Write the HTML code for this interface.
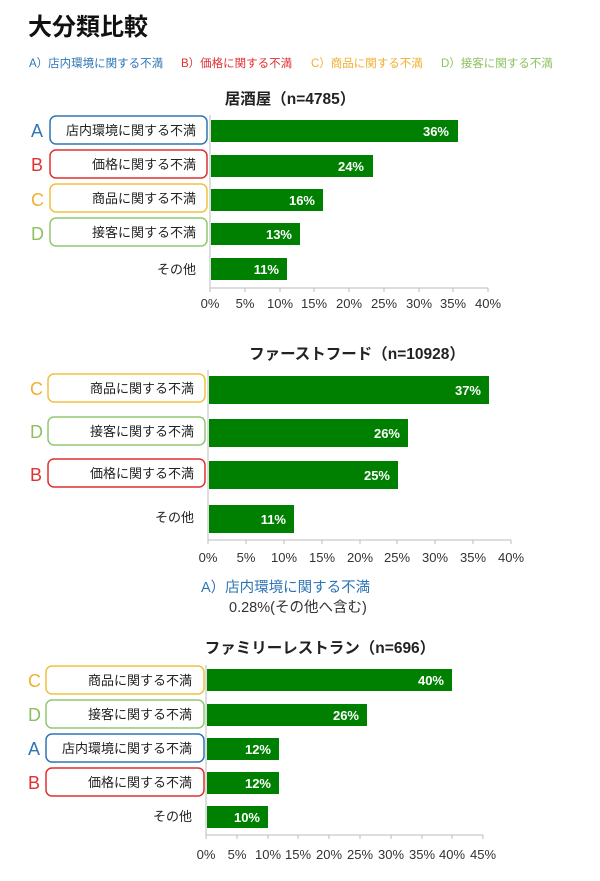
<!DOCTYPE html>
<html><head><meta charset="utf-8"><style>
body{margin:0;background:#fff;}
svg{display:block;font-family:"Liberation Sans","Noto Sans CJK JP",sans-serif;}
</style></head><body>
<svg width="600" height="881" viewBox="0 0 600 881" xmlns="http://www.w3.org/2000/svg">
<text x="28" y="35" font-size="24" font-weight="bold" fill="#111">大分類比較</text>
<g font-size="11.5">
<text x="29" y="67" fill="#2e75b6">A）店内環境に関する不満</text>
<text x="181" y="67" fill="#e03030">B）価格に関する不満</text>
<text x="311" y="67" fill="#f0b030">C）商品に関する不満</text>
<text x="441" y="67" fill="#8cc060">D）接客に関する不満</text>
</g>

<!-- Chart 1 -->
<text x="290" y="104" font-size="15.5" font-weight="bold" text-anchor="middle" fill="#222">居酒屋（n=4785）</text>
<g stroke="#bbb" fill="none"><line x1="210" y1="115" x2="210" y2="288"/><line x1="210" y1="288" x2="488" y2="288"/></g>
<g stroke="#bbb"><line x1="210" y1="288" x2="210" y2="292"/><line x1="245" y1="288" x2="245" y2="292"/><line x1="280" y1="288" x2="280" y2="292"/><line x1="314" y1="288" x2="314" y2="292"/><line x1="349" y1="288" x2="349" y2="292"/><line x1="384" y1="288" x2="384" y2="292"/><line x1="419" y1="288" x2="419" y2="292"/><line x1="453" y1="288" x2="453" y2="292"/><line x1="488" y1="288" x2="488" y2="292"/></g>
<g font-size="13" fill="#333" text-anchor="middle"><text x="210" y="308">0%</text><text x="245" y="308">5%</text><text x="280" y="308">10%</text><text x="314" y="308">15%</text><text x="349" y="308">20%</text><text x="384" y="308">25%</text><text x="419" y="308">30%</text><text x="453" y="308">35%</text><text x="488" y="308">40%</text></g>
<g fill="#008000"><rect x="211" y="120" width="247" height="22"/><rect x="211" y="155" width="162" height="22"/><rect x="211" y="189" width="112" height="22"/><rect x="211" y="223" width="89" height="22"/><rect x="211" y="258" width="76" height="22"/></g>
<g fill="#fff" font-size="13" font-weight="bold" text-anchor="end"><text x="449" y="136">36%</text><text x="364" y="171">24%</text><text x="315" y="205">16%</text><text x="292" y="239">13%</text><text x="279" y="274">11%</text></g>
<g fill="#fff" stroke-width="1.5"><rect x="50" y="116" width="157" height="28" rx="6" stroke="#2e75b6"/><rect x="50" y="150" width="157" height="28" rx="6" stroke="#e03030"/><rect x="50" y="184" width="157" height="28" rx="6" stroke="#f0c040"/><rect x="50" y="218" width="157" height="28" rx="6" stroke="#90c870"/></g>
<g font-size="13" fill="#222" text-anchor="end"><text x="196" y="135">店内環境に関する不満</text><text x="196" y="169">価格に関する不満</text><text x="196" y="203">商品に関する不満</text><text x="196" y="237">接客に関する不満</text><text x="196" y="274">その他</text></g>
<g font-size="18"><text x="31" y="137" fill="#2e75b6">A</text><text x="31" y="171" fill="#e03030">B</text><text x="31" y="206" fill="#f0b030">C</text><text x="31" y="240" fill="#8cc060">D</text></g>

<!-- Chart 2 -->
<text x="357" y="359" font-size="15.5" font-weight="bold" text-anchor="middle" fill="#222">ファーストフード（n=10928）</text>
<g stroke="#bbb" fill="none"><line x1="208" y1="370" x2="208" y2="540"/><line x1="208" y1="540" x2="511" y2="540"/></g>
<g stroke="#bbb"><line x1="208" y1="540" x2="208" y2="544"/><line x1="246" y1="540" x2="246" y2="544"/><line x1="284" y1="540" x2="284" y2="544"/><line x1="322" y1="540" x2="322" y2="544"/><line x1="360" y1="540" x2="360" y2="544"/><line x1="397" y1="540" x2="397" y2="544"/><line x1="435" y1="540" x2="435" y2="544"/><line x1="473" y1="540" x2="473" y2="544"/><line x1="511" y1="540" x2="511" y2="544"/></g>
<g font-size="13" fill="#333" text-anchor="middle"><text x="208" y="562">0%</text><text x="246" y="562">5%</text><text x="284" y="562">10%</text><text x="322" y="562">15%</text><text x="360" y="562">20%</text><text x="397" y="562">25%</text><text x="435" y="562">30%</text><text x="473" y="562">35%</text><text x="511" y="562">40%</text></g>
<g fill="#008000"><rect x="209" y="376" width="280" height="28"/><rect x="209" y="419" width="199" height="28"/><rect x="209" y="461" width="189" height="28"/><rect x="209" y="505" width="85" height="28"/></g>
<g fill="#fff" font-size="13" font-weight="bold" text-anchor="end"><text x="481" y="395">37%</text><text x="400" y="438">26%</text><text x="390" y="480">25%</text><text x="286" y="524">11%</text></g>
<g fill="#fff" stroke-width="1.5"><rect x="48" y="374" width="157" height="28" rx="6" stroke="#f0c040"/><rect x="48" y="417" width="157" height="28" rx="6" stroke="#90c870"/><rect x="48" y="459" width="157" height="28" rx="6" stroke="#e03030"/></g>
<g font-size="13" fill="#222" text-anchor="end"><text x="194" y="393">商品に関する不満</text><text x="194" y="436">接客に関する不満</text><text x="194" y="478">価格に関する不満</text><text x="194" y="522">その他</text></g>
<g font-size="18"><text x="30" y="395" fill="#f0b030">C</text><text x="30" y="438" fill="#8cc060">D</text><text x="30" y="481" fill="#e03030">B</text></g>
<text x="201" y="592" font-size="14.5" fill="#2e75b6">A）店内環境に関する不満</text>
<text x="229" y="612" font-size="14.5" fill="#333">0.28%(その他へ含む)</text>

<!-- Chart 3 -->
<text x="320" y="653" font-size="15.5" font-weight="bold" text-anchor="middle" fill="#222">ファミリーレストラン（n=696）</text>
<g stroke="#bbb" fill="none"><line x1="206" y1="665" x2="206" y2="835"/><line x1="206" y1="835" x2="483" y2="835"/></g>
<g stroke="#bbb"><line x1="206" y1="835" x2="206" y2="839"/><line x1="237" y1="835" x2="237" y2="839"/><line x1="268" y1="835" x2="268" y2="839"/><line x1="298" y1="835" x2="298" y2="839"/><line x1="329" y1="835" x2="329" y2="839"/><line x1="360" y1="835" x2="360" y2="839"/><line x1="391" y1="835" x2="391" y2="839"/><line x1="422" y1="835" x2="422" y2="839"/><line x1="452" y1="835" x2="452" y2="839"/><line x1="483" y1="835" x2="483" y2="839"/></g>
<g font-size="13" fill="#333" text-anchor="middle"><text x="206" y="859">0%</text><text x="237" y="859">5%</text><text x="268" y="859">10%</text><text x="298" y="859">15%</text><text x="329" y="859">20%</text><text x="360" y="859">25%</text><text x="391" y="859">30%</text><text x="422" y="859">35%</text><text x="452" y="859">40%</text><text x="483" y="859">45%</text></g>
<g fill="#008000"><rect x="207" y="669" width="245" height="22"/><rect x="207" y="704" width="160" height="22"/><rect x="207" y="738" width="72" height="22"/><rect x="207" y="772" width="72" height="22"/><rect x="207" y="806" width="61" height="22"/></g>
<g fill="#fff" font-size="13" font-weight="bold" text-anchor="end"><text x="444" y="685">40%</text><text x="359" y="720">26%</text><text x="271" y="754">12%</text><text x="271" y="788">12%</text><text x="260" y="822">10%</text></g>
<g fill="#fff" stroke-width="1.5"><rect x="46" y="666" width="158" height="28" rx="6" stroke="#f0c040"/><rect x="46" y="700" width="158" height="28" rx="6" stroke="#90c870"/><rect x="46" y="734" width="158" height="28" rx="6" stroke="#2e75b6"/><rect x="46" y="768" width="158" height="28" rx="6" stroke="#e03030"/></g>
<g font-size="13" fill="#222" text-anchor="end"><text x="192" y="685">商品に関する不満</text><text x="192" y="719">接客に関する不満</text><text x="192" y="753">店内環境に関する不満</text><text x="192" y="787">価格に関する不満</text><text x="192" y="821">その他</text></g>
<g font-size="18"><text x="28" y="687" fill="#f0b030">C</text><text x="28" y="721" fill="#8cc060">D</text><text x="28" y="755" fill="#2e75b6">A</text><text x="28" y="789" fill="#e03030">B</text></g>
</svg>
</body></html>
